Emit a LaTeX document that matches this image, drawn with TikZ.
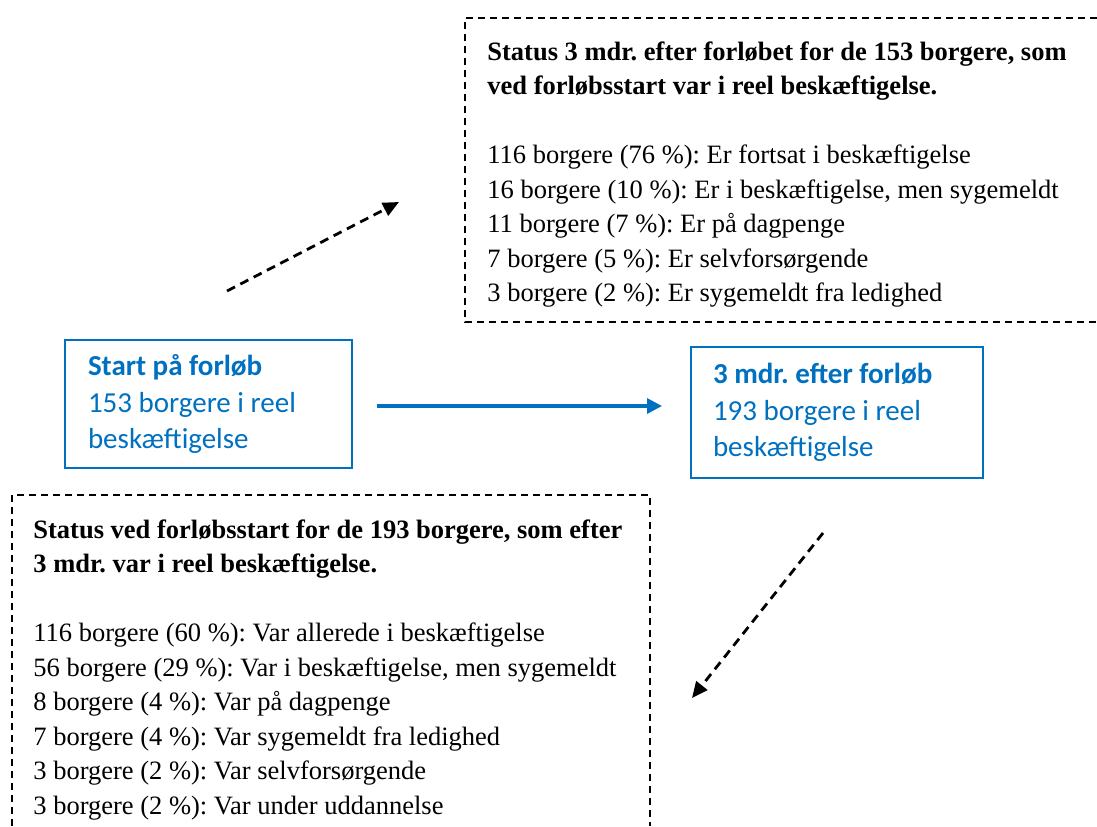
\documentclass[tikz,border=0pt]{standalone}
\usepackage{fontspec}
\setmainfont{Liberation Serif}
\newfontfamily\calibri{Carlito}
\usepackage{tikz}
\usetikzlibrary{arrows.meta}
\definecolor{wordblue}{RGB}{0,112,192}
\frenchspacing

\begin{document}
\begin{tikzpicture}[x=0.5pt,y=-0.5pt,
    bluebox/.style={draw=wordblue, line width=0.9pt, text=wordblue, align=flush left,
        inner xsep=11.5pt, font=\calibri\fontsize{14.5}{18.25}\selectfont},
    statusline/.style={dash pattern=on 3.5pt off 2.5pt, line width=0.8pt},
    statustext/.style={anchor=north west, inner sep=0pt, align=flush left,
        font=\fontsize{13.25}{17.25}\selectfont},
    flow/.style={-{Triangle[length=7.5pt,width=7.5pt]}, wordblue, line width=1.6pt},
    hint/.style={-{Triangle[length=8pt,width=7pt]}, dash pattern=on 4.5pt off 3pt, line width=1.4pt}]
    \useasboundingbox (0,0) rectangle (1097,826);

    % the two moments
    \node[bluebox, text width=120.5pt, minimum width=143.5pt, minimum height=64pt] (start) at (208.5,404)
        {\textbf{Start på forløb}\\153 borgere i reel\\beskæftigelse};
    \node[bluebox, text width=124pt, inner xsep=11pt, minimum width=146pt, minimum height=65.5pt] (after) at (837,412.5)
        {\textbf{3 mdr. efter forløb}\\193 borgere i reel\\beskæftigelse};
    \coordinate (flowA) at (377,406);
    \coordinate (flowB) at (662,406);
    \draw[flow] (flowA) -- (flowB);

    % status after 3 months
    \draw[statusline] (1097,18) -- (465,18) -- (465,322) -- (1097,322);
    \node[statustext] (statusafter) at (487,41)
        {\textbf{Status 3 mdr. efter forløbet for de 153 borgere, som}\\
         \textbf{ved forløbsstart var i reel beskæftigelse.}\\[17.25pt]
         116 borgere (76 \%): Er fortsat i beskæftigelse\\
         16 borgere (10 \%): Er i beskæftigelse, men sygemeldt\\
         11 borgere (7 \%): Er på dagpenge\\
         7 borgere (5 \%): Er selvforsørgende\\
         3 borgere (2 \%): Er sygemeldt fra ledighed};

    % status at start
    \draw[statusline] (12,826) -- (12,495) -- (650,495) -- (650,826);
    \node[statustext] (statusstart) at (33,519)
        {\textbf{Status ved forløbsstart for de 193 borgere, som efter}\\
         \textbf{3 mdr. var i reel beskæftigelse.}\\[17.25pt]
         116 borgere (60 \%): Var allerede i beskæftigelse\\
         56 borgere (29 \%): Var i beskæftigelse, men sygemeldt\\
         8 borgere (4 \%): Var på dagpenge\\
         7 borgere (4 \%): Var sygemeldt fra ledighed\\
         3 borgere (2 \%): Var selvforsørgende\\
         3 borgere (2 \%): Var under uddannelse};

    \coordinate (hintA) at (227,291);
    \coordinate (hintB) at (399,202);
    \draw[hint] (hintA) -- (hintB);
    \coordinate (hintC) at (823,533);
    \coordinate (hintD) at (692,698);
    \draw[hint] (hintC) -- (hintD);
\end{tikzpicture}
\end{document}
